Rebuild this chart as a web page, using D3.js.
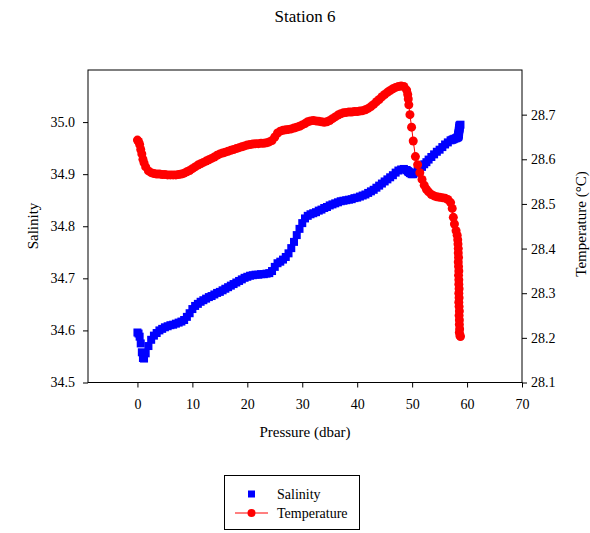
<!DOCTYPE html>
<html>
<head>
<meta charset="utf-8">
<script src="https://cdn.jsdelivr.net/npm/d3@7/dist/d3.min.js"></script>
<style>
  body { margin: 0; background: #fff; }
  svg { display: block; font-family: "Liberation Serif", "Times New Roman", serif; }
</style>
</head>
<body>
<svg id="chart" width="590" height="533"></svg>
<script>
const title = "Station 6";
const xTicks = [0, 10, 20, 30, 40, 50, 60, 70];
const salTicks = [34.5, 34.6, 34.7, 34.8, 34.9, 35.0];
const tempTicks = [28.1, 28.2, 28.3, 28.4, 28.5, 28.6, 28.7];

const pressure = [
  0, 0.2, 0.4, 0.6, 0.8, 1.0, 1.2, 1.5, 2.0, 2.5, 3.0, 3.5, 4.0, 4.5, 5.0, 5.5, 6.0, 6.5, 7.0, 7.5,
  8.0, 8.5, 9.0, 9.5, 10.0, 10.5, 11.0, 11.5, 12.0, 12.5, 13.0, 13.5, 14.0, 14.5, 15.0, 15.5, 16.0, 16.5,
  17.0, 17.5, 18.0, 18.5, 19.0, 19.5, 20.0, 20.5, 21.0, 21.5, 22.0, 22.5, 23.0, 23.5, 24.0, 24.5, 25.0,
  25.5, 26.0, 26.5, 27.0, 27.5, 28.0, 28.5, 29.0, 29.5, 30.0, 30.5, 31.0, 31.5, 32.0, 32.5, 33.0, 33.5,
  34.0, 34.5, 35.0, 35.5, 36.0, 36.5, 37.0, 37.5, 38.0, 38.5, 39.0, 39.5, 40.0, 40.5, 41.0, 41.5, 42.0,
  42.5, 43.0, 43.5, 44.0, 44.5, 45.0, 45.5, 46.0, 46.5, 47.0, 47.5, 48.0, 48.5, 49.0, 49.2, 49.3, 49.4,
  49.6, 49.9, 50.2, 50.6, 51.0, 51.4, 51.8, 52.2, 52.6, 53.0, 53.5, 54.0, 54.5, 55.0, 55.5, 56.0, 56.5,
  57.0, 57.3, 57.5, 57.7, 58.0,
  58.2, 58.3, 58.35, 58.4, 58.4, 58.45, 58.4, 58.45, 58.5, 58.45, 58.5, 58.5, 58.55, 58.5, 58.55, 58.5,
  58.55, 58.6, 58.55, 58.6, 58.6, 58.65, 58.6, 58.7, 58.8
];

const salinity = [
  34.596, 34.594, 34.588, 34.575, 34.558, 34.547, 34.546, 34.556, 34.570, 34.582, 34.590, 34.595, 34.600, 34.603, 34.606, 34.608, 34.610, 34.611, 34.613, 34.615,
  34.617, 34.620, 34.626, 34.633, 34.641, 34.647, 34.651, 34.655, 34.658, 34.661, 34.664, 34.666, 34.669, 34.672, 34.674, 34.677, 34.680, 34.683,
  34.686, 34.689, 34.692, 34.695, 34.698, 34.701, 34.703, 34.705, 34.706, 34.707, 34.707, 34.708, 34.708, 34.709, 34.710, 34.714, 34.722,
  34.729, 34.732, 34.736, 34.741, 34.748, 34.758, 34.770, 34.783, 34.795, 34.806, 34.815, 34.820, 34.823, 34.825, 34.827, 34.830, 34.832,
  34.835, 34.837, 34.840, 34.842, 34.844, 34.846, 34.848, 34.849, 34.850, 34.851, 34.852, 34.854, 34.855, 34.857, 34.859, 34.861, 34.864,
  34.867, 34.870, 34.874, 34.878, 34.882, 34.886, 34.890, 34.894, 34.898, 34.903, 34.907, 34.909, 34.910, 34.908, 34.906, 34.905, 34.904,
  34.902, 34.900, 34.900, 34.903, 34.906, 34.910, 34.914, 34.919, 34.923, 34.928, 34.933, 34.938, 34.943, 34.947, 34.952, 34.957, 34.961,
  34.965, 34.966, 34.967, 34.968, 34.969,
  34.970, 34.971, 34.972, 34.972, 34.973, 34.974, 34.975, 34.976, 34.977, 34.978, 34.979, 34.980, 34.981, 34.982, 34.983, 34.984,
  34.985, 34.986, 34.987, 34.988, 34.989, 34.991, 34.993, 34.994, 34.995
];

const temperature = [
  28.643, 28.640, 28.633, 28.622, 28.612, 28.600, 28.592, 28.583, 28.574, 28.570, 28.568, 28.567, 28.567, 28.566, 28.566, 28.565, 28.565, 28.565, 28.565, 28.566,
  28.567, 28.569, 28.572, 28.575, 28.579, 28.583, 28.587, 28.590, 28.593, 28.596, 28.599, 28.602, 28.605, 28.609, 28.612, 28.614, 28.616, 28.618,
  28.620, 28.622, 28.624, 28.626, 28.628, 28.630, 28.632, 28.633, 28.634, 28.635, 28.635, 28.636, 28.636, 28.637, 28.639, 28.642, 28.650,
  28.659, 28.663, 28.665, 28.666, 28.667, 28.668, 28.670, 28.672, 28.674, 28.677, 28.680, 28.684, 28.686, 28.687, 28.686, 28.685, 28.684,
  28.683, 28.684, 28.687, 28.691, 28.695, 28.699, 28.702, 28.704, 28.705, 28.706, 28.706, 28.707, 28.707, 28.708, 28.709, 28.711, 28.714,
  28.718, 28.723, 28.729, 28.734, 28.740, 28.745, 28.750, 28.754, 28.758, 28.761, 28.763, 28.764, 28.763, 28.755, 28.745, 28.735, 28.722,
  28.700, 28.672, 28.641, 28.606, 28.588, 28.570, 28.555, 28.542, 28.533, 28.527, 28.521, 28.518, 28.516, 28.515, 28.514, 28.513, 28.510,
  28.503, 28.490, 28.470, 28.455, 28.440,
  28.430, 28.420, 28.410, 28.400, 28.390, 28.380, 28.370, 28.360, 28.350, 28.340, 28.330, 28.320, 28.310, 28.300, 28.290, 28.280,
  28.270, 28.260, 28.250, 28.240, 28.230, 28.220, 28.212, 28.205, 28.203
];

const svg = d3.select("#chart");
const plotLeft = 88, plotRight = 522, plotTop = 70, plotBottom = 382.5;

const x = d3.scaleLinear().domain([-9, 70]).range([plotLeft, plotRight]);
const yS = d3.scaleLinear().domain([34.5, 35.1]).range([plotBottom, plotTop]);
const yT = d3.scaleLinear().domain([28.1, 28.8]).range([plotBottom, plotTop]);

// title
svg.append("text").attr("x", 305).attr("y", 22).attr("text-anchor", "middle")
  .attr("font-size", 17).attr("fill", "#000").text(title);

// axes
const axL = svg.append("g").attr("transform", `translate(${plotLeft},0)`)
  .call(d3.axisLeft(yS).tickValues(salTicks).tickFormat(d3.format(".1f")).tickSize(5).tickPadding(8));
const axR = svg.append("g").attr("transform", `translate(${plotRight},0)`)
  .call(d3.axisRight(yT).tickValues(tempTicks).tickFormat(d3.format(".1f")).tickSize(5).tickPadding(4));
const axB = svg.append("g").attr("transform", `translate(0,${plotBottom})`)
  .call(d3.axisBottom(x).tickValues(xTicks).tickFormat(d3.format("d")).tickSize(5).tickPadding(12));
[axL, axR, axB].forEach(g => {
  g.select(".domain").remove();
  g.selectAll("text").attr("font-size", 14).attr("font-family", "Liberation Serif").attr("fill", "#000");
  g.selectAll("line").attr("stroke", "#000");
});

// frame
svg.append("rect").attr("x", plotLeft).attr("y", plotTop).attr("width", plotRight - plotLeft).attr("height", plotBottom - plotTop)
  .attr("fill", "none").attr("stroke", "#000").attr("stroke-width", 1);

// axis labels
svg.append("text").attr("x", 305).attr("y", 437).attr("text-anchor", "middle")
  .attr("font-size", 15).attr("fill", "#000").text("Pressure (dbar)");
svg.append("text").attr("transform", "translate(38,226) rotate(-90)").attr("text-anchor", "middle")
  .attr("font-size", 15).attr("fill", "#000").text("Salinity");
svg.append("text").attr("transform", "translate(586,224) rotate(-90)").attr("text-anchor", "middle")
  .attr("font-size", 15).attr("fill", "#000").text("Temperature (°C)");

const data = pressure.map((p, i) => ({ p, s: salinity[i], t: temperature[i] }));

// salinity squares
const sq = 8;
svg.append("g").selectAll("rect").data(data).join("rect")
  .attr("x", d => x(d.p) - sq / 2).attr("y", d => yS(d.s) - sq / 2)
  .attr("width", sq).attr("height", sq).attr("fill", "#0000ff");

// temperature line + circles
svg.append("path").datum(data)
  .attr("d", d3.line().x(d => x(d.p)).y(d => yT(d.t)))
  .attr("fill", "none").attr("stroke", "#ff0000").attr("stroke-width", 1);
svg.append("g").selectAll("circle").data(data).join("circle")
  .attr("cx", d => x(d.p)).attr("cy", d => yT(d.t)).attr("r", 4.5).attr("fill", "#ff0000");

// legend
const lg = svg.append("g");
lg.append("rect").attr("x", 224.5).attr("y", 475.5).attr("width", 135).attr("height", 54)
  .attr("fill", "#fff").attr("stroke", "#000").attr("stroke-width", 1);
lg.append("rect").attr("x", 251.5 - 3.5).attr("y", 494 - 3.5).attr("width", 7).attr("height", 7).attr("fill", "#0000ff");
lg.append("line").attr("x1", 235).attr("x2", 268).attr("y1", 513).attr("y2", 513).attr("stroke", "#ff0000").attr("stroke-width", 1);
lg.append("circle").attr("cx", 251.5).attr("cy", 513).attr("r", 4).attr("fill", "#ff0000");
lg.append("text").attr("x", 277).attr("y", 499).attr("font-size", 14).attr("fill", "#000").text("Salinity");
lg.append("text").attr("x", 277).attr("y", 518).attr("font-size", 14).attr("fill", "#000").text("Temperature");
</script>
</body>
</html>
